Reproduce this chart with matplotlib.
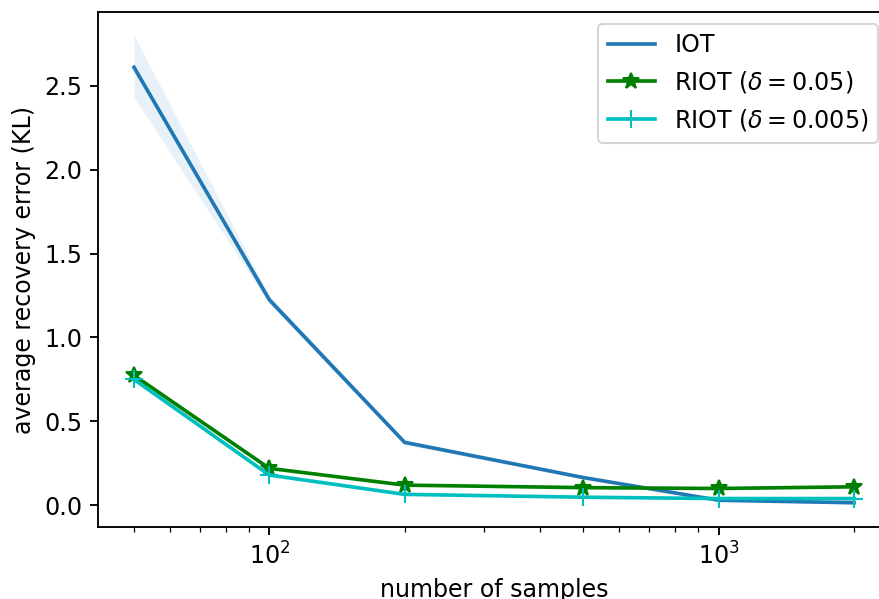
import matplotlib
matplotlib.use("Agg")
import matplotlib.pyplot as plt
import numpy as np

samples = [50, 100, 200, 500, 1000, 2000]
iot = [2.61, 1.225, 0.375, 0.165, 0.03, 0.015]
iot_low = [2.43, 1.20, 0.36, 0.155, 0.025, 0.01]
iot_high = [2.80, 1.25, 0.39, 0.175, 0.035, 0.02]
riot_05 = [0.774, 0.22, 0.12, 0.105, 0.10, 0.11]
riot_005 = [0.75, 0.18, 0.065, 0.048, 0.04, 0.04]

plt.rcParams['font.size'] = 11.4
plt.rcParams['lines.linewidth'] = 1.75
plt.rcParams['axes.linewidth'] = 0.9
plt.rcParams['xtick.major.width'] = 0.9
plt.rcParams['ytick.major.width'] = 0.9
plt.rcParams['xtick.major.size'] = 4
plt.rcParams['ytick.major.size'] = 4
plt.rcParams['xtick.minor.size'] = 2.3

fig = plt.figure(figsize=(880/150, 599/150), dpi=150)
ax = fig.add_axes([98/880, 72/599, 792/880, (527-12)/599])

ax.plot(samples, iot, color='C0', label='IOT')
ax.fill_between(samples, iot_low, iot_high, color='C0', alpha=0.1, linewidth=0)
ax.plot(samples, riot_05, color='g', marker='*', markersize=8, label=r'RIOT ($\delta=0.05$)')
ax.plot(samples, riot_005, color='c', marker='+', markersize=9, label=r'RIOT ($\delta=0.005$)')
ax.set_xscale('log')
ax.set_xlabel('number of samples')
ax.set_ylabel('average recovery error (KL)')
ax.legend(loc='upper right')

fig.savefig('out.png', dpi=150)
